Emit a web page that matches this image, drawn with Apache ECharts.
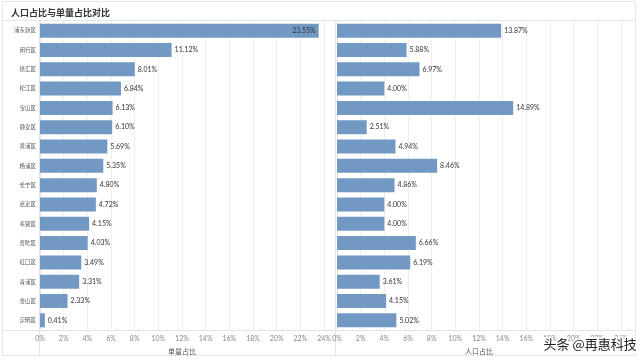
<!DOCTYPE html>
<html><head><meta charset="utf-8">
<script src="https://cdn.jsdelivr.net/npm/echarts@6/dist/echarts.min.js"></script>
<style>html,body{margin:0;padding:0;background:#fff}#c{width:640px;height:362px}</style>
</head><body><div id="c"></div>
<script>
var districts = ['浦东新区','闵行区','徐汇区','松江区','宝山区','静安区','黄浦区','杨浦区','长宁区','嘉定区','奉贤区','普陀区','虹口区','青浦区','金山区','崇明区'];
var orderShare = [23.55,11.12,8.01,6.84,6.13,6.10,5.69,5.35,4.80,4.72,4.15,4.03,3.49,3.31,2.33,0.41];
var popShare = [13.87,5.88,6.97,4.00,14.89,2.51,4.94,8.46,4.86,4.00,4.00,6.66,6.19,3.61,4.15,5.02];
var axisMin = 0, axisMax = 24, axisStep = 2;
var titleText = '人口占比与单量占比对比';
var leftAxisName = '单量占比';
var rightAxisName = '人口占比';

var barColor = '#7199c4';
var chart = echarts.init(document.getElementById('c'), null, {renderer:'canvas'});
var font = 'Lato, "Noto Sans CJK SC", sans-serif';

function xAx(gi, name){
  return {
    gridIndex: gi, type:'value', min: axisMin, max: axisMax, interval: axisStep,
    axisLine:{show:false}, axisTick:{show:false},
    axisLabel:{formatter:'{value}%', fontSize:7, color:'#888', margin:5, fontFamily:font},
    splitLine:{show:true, lineStyle:{color:'#efefef', width:1}},
    name: name, nameLocation:'middle', nameGap:18,
    nameTextStyle:{fontSize:7, color:'#555', fontFamily:font}
  };
}
function yAx(gi, showLabel){
  return {
    gridIndex: gi, type:'category', data: districts, inverse:true,
    axisLine:{show:true, lineStyle:{color:'#e4e4e4'}}, axisTick:{show:false},
    axisLabel:{show:showLabel, fontSize:5.5, color:'#555', margin:4, fontFamily:font},
    splitLine:{show:false}
  };
}
function labelFmt(p){ return p.value.toFixed(2) + '%'; }

var leftData = orderShare.map(function(v){
  if (v > 22) return {value:v, label:{position:'insideRight', offset:[0,0]}};
  return v;
});

chart.setOption({
  animation:false,
  textStyle:{fontFamily:font},
  title:{text:titleText, left:6, top:4, textStyle:{fontSize:9, fontWeight:'bold', color:'#333', fontFamily:font}},
  grid:[
    {left:40, width:284, top:21, height:309},
    {left:337, width:284, top:21, height:309}
  ],
  xAxis:[xAx(0, leftAxisName), xAx(1, rightAxisName)],
  yAxis:[yAx(0, true), yAx(1, false)],
  series:[
    {type:'bar', xAxisIndex:0, yAxisIndex:0, data:leftData, barWidth:14,
     itemStyle:{color:barColor},
     label:{show:true, position:'right', distance:3, fontSize:7, color:'#333', formatter:labelFmt}},
    {type:'bar', xAxisIndex:1, yAxisIndex:1, data:popShare, barWidth:14,
     itemStyle:{color:barColor},
     label:{show:true, position:'right', distance:3, fontSize:7, color:'#333', formatter:labelFmt}}
  ],
  graphic:[
    {type:'rect', shape:{x:2.5, y:1.5, width:633, height:354}, style:{fill:null, stroke:'#e6e6e6', lineWidth:1}, silent:true, z:-1},
    {type:'line', shape:{x1:2, y1:20.5, x2:636, y2:20.5}, style:{stroke:'#e6e6e6', lineWidth:1}, silent:true},
    {type:'line', shape:{x1:2, y1:330.5, x2:636, y2:330.5}, style:{stroke:'#e4e4e4', lineWidth:1}, silent:true},
    {type:'line', shape:{x1:39.5, y1:21, x2:39.5, y2:356}, style:{stroke:'#e4e4e4', lineWidth:1}, silent:true},
    {type:'line', shape:{x1:335.5, y1:21, x2:335.5, y2:356}, style:{stroke:'#e4e4e4', lineWidth:1}, silent:true},
    {type:'text', left:542, top:336, style:{text:'头条 @再惠科技', fontSize:13, fill:'#222', stroke:'#fff', lineWidth:3, fontFamily:'"Noto Sans CJK SC", sans-serif'}, z:100}
  ]
});
</script></body></html>
